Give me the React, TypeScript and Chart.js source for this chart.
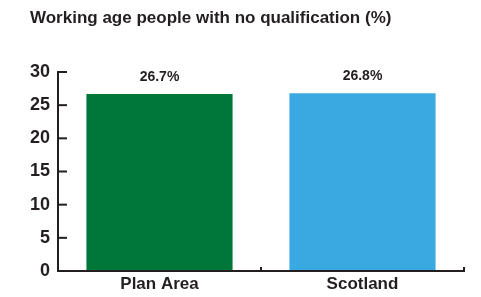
import React, { useEffect, useRef } from "react";
import { Chart, registerables } from "chart.js";

Chart.register(...registerables);

const categories = ["Plan Area", "Scotland"];
const values = [26.7, 26.8];
const barColors = ["#00773A", "#3AA8E1"];
const valueLabels = ["26.7%", "26.8%"];
const titleText = "Working age people with no qualification (%)";

const FONT = "'Liberation Sans', Arial, sans-serif";
const INK = "#231F20";

const axisPlugin = {
  id: "customAxes",
  afterDatasetsDraw(chart: any) {
    const { ctx, chartArea, scales } = chart;
    const y = scales.y;
    const x = scales.x;
    ctx.save();
    // title
    ctx.fillStyle = INK;
    ctx.font = `bold 17px ${FONT}`;
    ctx.textAlign = "left";
    ctx.textBaseline = "middle";
    ctx.fillText(titleText, 30, 18);

    ctx.strokeStyle = INK;
    ctx.lineWidth = 2;
    ctx.lineCap = "butt";
    // y axis line
    ctx.beginPath();
    ctx.moveTo(chartArea.left, y.getPixelForValue(y.max) - 1);
    ctx.lineTo(chartArea.left, y.getPixelForValue(0) + 1);
    ctx.stroke();
    // y ticks inward
    y.ticks.forEach((t: any) => {
      const py = y.getPixelForValue(t.value);
      if (t.value === 0) return;
      ctx.beginPath();
      ctx.moveTo(chartArea.left - 1, py);
      ctx.lineTo(chartArea.left + 9, py);
      ctx.stroke();
    });
    // x axis line
    const by = y.getPixelForValue(0);
    ctx.beginPath();
    ctx.moveTo(chartArea.left - 1, by);
    ctx.lineTo(chartArea.right, by);
    ctx.stroke();
    // x ticks upward at category boundaries
    const n = categories.length;
    const step = x.getPixelForValue(1) - x.getPixelForValue(0);
    for (let i = 0; i < n; i++) {
      const px = x.getPixelForValue(i) + step / 2;
      ctx.beginPath();
      ctx.moveTo(px, by + 1);
      ctx.lineTo(px, by - 4);
      ctx.stroke();
    }
    // value labels
    ctx.fillStyle = INK;
    ctx.font = `bold 14px ${FONT}`;
    ctx.textAlign = "center";
    ctx.textBaseline = "middle";
    const meta = chart.getDatasetMeta(0);
    meta.data.forEach((bar: any, i: number) => {
      ctx.fillText(valueLabels[i], bar.x, bar.y - 17);
    });
    ctx.restore();
  },
};

export default function App() {
  const ref = useRef<HTMLCanvasElement>(null);
  useEffect(() => {
    document.body.style.margin = "0";
    const chart = new Chart(ref.current!, {
      type: "bar",
      data: {
        labels: categories,
        datasets: [
          {
            data: values,
            backgroundColor: barColors,
            borderWidth: 0,
          },
        ],
      },
      options: {
        animation: false,
        responsive: false,
        layout: { padding: { left: 0, right: 17, top: 72, bottom: 0 } },
        plugins: {
          legend: { display: false },
          tooltip: { enabled: false },
          title: { display: false },
        },
        scales: {
          x: {
            grid: { display: false, drawTicks: false },
            border: { display: false },
            ticks: {
              color: INK,
              font: { family: FONT, size: 17, weight: "bold" },
              padding: 3,
            },
            afterFit(scale: any) {
              scale.height = 26;
            },
          },
          y: {
            min: 0,
            max: 30,
            grid: { display: false, drawTicks: false },
            border: { display: false },
            ticks: {
              stepSize: 5,
              color: INK,
              font: { family: FONT, size: 18, weight: "bold" },
              padding: 8,
            },
            afterFit(scale: any) {
              scale.width = 58;
            },
          },
        },
      },
      plugins: [axisPlugin],
    });
    return () => chart.destroy();
  }, []);
  return <canvas ref={ref} width={481} height={297} style={{ display: "block" }} />;
}
